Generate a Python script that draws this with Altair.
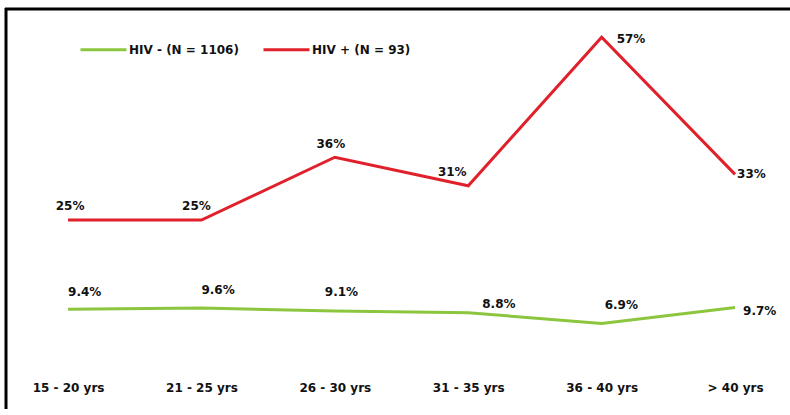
import altair as alt
import pandas as pd

categories = ["15 - 20 yrs", "21 - 25 yrs", "26 - 30 yrs", "31 - 35 yrs", "36 - 40 yrs", "> 40 yrs"]
series_names = ["HIV - (N = 1106)", "HIV + (N = 93)"]
hiv_neg = [9.4, 9.6, 9.1, 8.8, 6.9, 9.7]
hiv_pos = [25, 25, 36, 31, 57, 33]
neg_labels = ["9.4%", "9.6%", "9.1%", "8.8%", "6.9%", "9.7%"]
pos_labels = ["25%", "25%", "36%", "31%", "57%", "33%"]

rows = []
for i, c in enumerate(categories):
    rows.append({"series": series_names[0], "idx": i, "cat": c, "value": hiv_neg[i], "label": neg_labels[i]})
for i, c in enumerate(categories):
    rows.append({"series": series_names[1], "idx": i, "cat": c, "value": hiv_pos[i], "label": pos_labels[i]})
df = pd.DataFrame(rows)

GREEN = "#8CC63E"
RED = "#E0202A"
FONT = "DejaVu Sans"

x_enc = alt.X("cat:N", sort=categories, title=None,
              scale=alt.Scale(type="point", padding=0.4385, align=0.573),
              axis=alt.Axis(orient="bottom", domain=False, ticks=False, grid=False,
                            labelAngle=0, labelFont=FONT, labelFontSize=12,
                            labelFontWeight="bold", labelColor="#111111",
                            labelPadding=19))
y_enc = alt.Y("value:Q", scale=alt.Scale(domain=[0, 63.5], nice=False, zero=True), axis=None)

lines = alt.Chart(df).mark_line(strokeWidth=3).encode(
    x=x_enc, y=y_enc,
    color=alt.Color("series:N", scale=alt.Scale(domain=series_names, range=[GREEN, RED]),
                    legend=alt.Legend(title=None, orient="none", legendX=78, legendY=25,
                                      direction="horizontal", symbolType="stroke",
                                      symbolSize=2116, symbolStrokeWidth=3,
                                      labelFont=FONT, labelFontSize=12, labelFontWeight="bold",
                                      labelColor="#111111", columnPadding=18, labelOffset=1,
                                      padding=0)),
    detail="series:N",
)

# per-label placement: (dx, dy, align)
pos_place = [(2, -14, "center"), (-5, -14, "center"), (-4, -13, "center"),
             (-16, -14, "center"), (15, 2, "left"), (2, 0, "left")]
neg_place = [(0, -17, "left"), (0, -18, "left"), (-10, -19, "left"),
             (14, -9, "left"), (3, -19, "left"), (8, 3, "left")]

text_layers = []
for sname, places in ((series_names[1], pos_place), (series_names[0], neg_place)):
    for i, (dx, dy, al) in enumerate(places):
        t = alt.Chart(df).mark_text(dx=dx, dy=dy, align=al, baseline="middle", font=FONT,
                                    fontSize=12, fontWeight="bold", color="#111111").encode(
            x=x_enc, y=y_enc, text="label:N"
        ).transform_filter(
            (alt.datum.series == sname) & (alt.datum.idx == i)
        )
        text_layers.append(t)

one = pd.DataFrame({"a": [0]})
frame_left = alt.Chart(one).mark_rule(color="#000000", strokeWidth=3).encode(
    x=alt.value(5), y=alt.value(8), y2=alt.value(420))
frame_top = alt.Chart(one).mark_rule(color="#000000", strokeWidth=3).encode(
    x=alt.value(4), x2=alt.value(790), y=alt.value(9))

chart = alt.layer(lines, *text_layers, frame_left, frame_top).properties(
    width=784, height=363,
    autosize=alt.AutoSizeParams(type="none"),
    padding={"left": 1, "top": 0, "right": 5, "bottom": 46},
    background="#ffffff",
).configure_view(stroke=None, strokeWidth=0)

chart.save("out.html", embed_options={"renderer": "svg", "actions": False})
